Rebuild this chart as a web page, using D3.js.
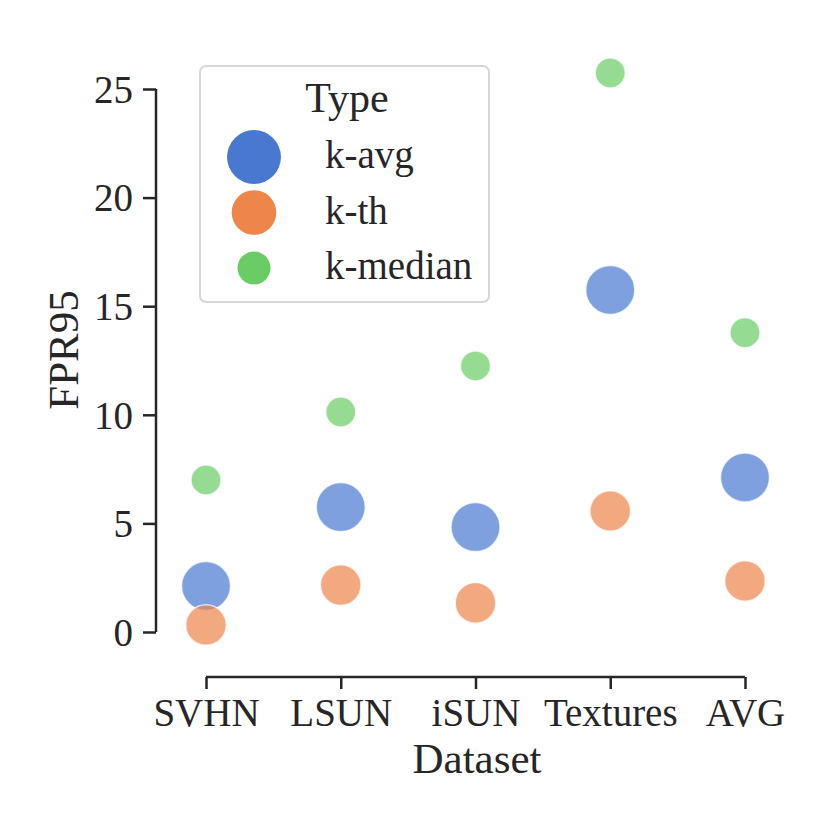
<!DOCTYPE html>
<html>
<head>
<meta charset="utf-8">
<script src="https://cdn.jsdelivr.net/npm/d3@7"></script>
<style>
  body { margin: 0; background: #fff; }
  text { font-family: "Liberation Serif", "DejaVu Serif", serif; fill: #262626; }
</style>
</head>
<body>
<svg id="chart" width="830" height="830"></svg>
<script>
// values
const datasets = ['SVHN', 'LSUN', 'iSUN', 'Textures', 'AVG'];
const types = ['k-avg', 'k-th', 'k-median'];
const kAvg = [2.12, 5.75, 4.83, 15.75, 7.11];
const kTh = [0.32, 2.16, 1.34, 5.57, 2.35];
const kMedian = [7.0, 10.13, 12.25, 25.74, 13.78];
const yTicks = [0, 5, 10, 15, 20, 25];

const series = [kAvg, kTh, kMedian];
const colors = ['#4878d0', '#ee854a', '#6acc64'];

const svg = d3.select('#chart');

const x = d3.scalePoint().domain(datasets).range([206, 745]);
const y = d3.scaleLinear().domain([0, 25]).range([632, 89]);
const color = d3.scaleOrdinal().domain(types).range(colors);
const radius = d3.scaleOrdinal().domain(types).range([24.5, 20.3, 15]);

// points, drawn type by type like seaborn does
const points = [];
types.forEach((t, i) => {
    series[i].forEach((v, j) => points.push({type: t, dataset: datasets[j], value: v}));
});

svg.append('g')
    .selectAll('circle')
    .data(points)
    .join('circle')
    .attr('cx', d => x(d.dataset))
    .attr('cy', d => y(d.value))
    .attr('r', d => radius(d.type))
    .attr('fill', d => color(d.type))
    .attr('fill-opacity', 0.7)
    .attr('stroke', '#fff')
    .attr('stroke-opacity', 0.7)
    .attr('stroke-width', 1.5);

// y axis, trimmed spine
const yAxis = svg.append('g')
    .attr('transform', 'translate(156,0)')
    .call(d3.axisLeft(y).tickValues(yTicks).tickSize(13).tickPadding(10));
yAxis.select('.domain').attr('d', `M0,${y(0)}V${y(25)}`);

// x axis, trimmed spine
const xAxis = svg.append('g')
    .attr('transform', 'translate(0,677)')
    .call(d3.axisBottom(x).tickSize(12).tickPadding(10));
xAxis.select('.domain').attr('d', `M${x(datasets[0])},0H${x(datasets[datasets.length - 1])}`);

[yAxis, xAxis].forEach(a => {
    a.select('.domain').attr('stroke', '#262626').attr('stroke-width', 2.5);
    a.selectAll('.tick line').attr('stroke', '#262626').attr('stroke-width', 2.5);
    a.selectAll('.tick text')
        .attr('font-size', 39)
        .attr('fill', '#262626');
});
yAxis.selectAll('.tick text').attr('dy', '0.34em');
xAxis.selectAll('.tick text').attr('dy', '0.68em');

// axis labels
svg.append('text')
    .attr('x', 477).attr('y', 773)
    .attr('text-anchor', 'middle')
    .attr('font-size', 43)
    .text('Dataset');

svg.append('text')
    .attr('transform', 'translate(78,350) rotate(-90)')
    .attr('text-anchor', 'middle')
    .attr('font-size', 43)
    .text('FPR95');

// legend
const legend = svg.append('g');
legend.append('rect')
    .attr('x', 200).attr('y', 66)
    .attr('width', 289).attr('height', 236)
    .attr('rx', 6)
    .attr('fill', '#fff')
    .attr('fill-opacity', 0.8)
    .attr('stroke', '#d6d6d6')
    .attr('stroke-width', 2);

legend.append('text')
    .attr('x', 347).attr('y', 112)
    .attr('text-anchor', 'middle')
    .attr('font-size', 42)
    .text('Type');

const legendY = d3.scalePoint().domain(types).range([157, 268]);
const item = legend.selectAll('g.item')
    .data(types)
    .join('g')
    .attr('class', 'item')
    .attr('transform', d => `translate(254,${legendY(d)})`);
item.append('circle')
    .attr('r', d => radius(d) * 1.1)
    .attr('fill', d => color(d));
item.append('text')
    .attr('x', 71).attr('y', 11)
    .attr('font-size', 39)
    .text(d => d);
</script>
</body>
</html>
